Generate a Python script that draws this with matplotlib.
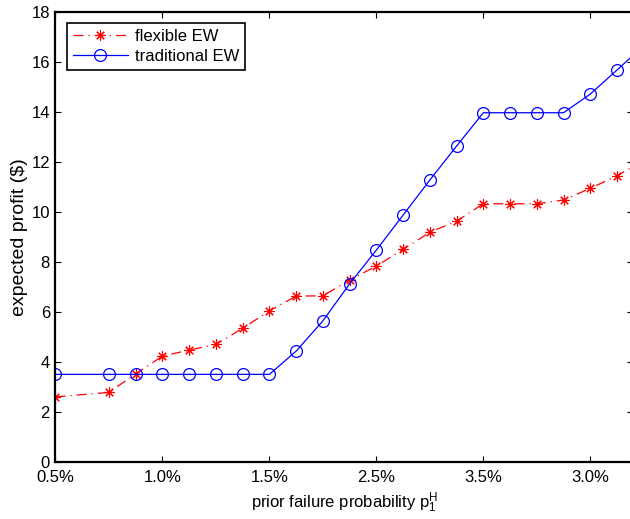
import matplotlib
matplotlib.use('Agg')
import matplotlib.pyplot as plt

plt.rcParams['font.family'] = ['Liberation Sans', 'DejaVu Sans']
plt.rcParams['mathtext.fontset'] = 'custom'
plt.rcParams['mathtext.rm'] = 'Liberation Sans'
plt.rcParams['mathtext.it'] = 'Liberation Sans'

# prior failure probability (%) -- 0.625 is not in the data
p_values = [0.5, 0.75, 0.875, 1.0, 1.125, 1.25, 1.375, 1.5, 1.625, 1.75, 1.875,
            2.0, 2.125, 2.25, 2.375, 2.5, 2.625, 2.75, 2.875, 3.0, 3.125, 3.25]
flexible_ew = [2.60, 2.78, 3.52, 4.23, 4.47, 4.70, 5.34, 6.04, 6.63, 6.64, 7.27,
               7.83, 8.50, 9.18, 9.63, 10.32, 10.32, 10.32, 10.47, 10.94, 11.44, 12.05]
traditional_ew = [3.50, 3.50, 3.50, 3.50, 3.50, 3.50, 3.50, 3.50, 4.43, 5.64, 7.12,
                  8.47, 9.87, 11.27, 12.63, 13.96, 13.96, 13.96, 13.96, 14.71, 15.67, 16.65]

tick_pos = [0.5, 1.0, 1.5, 2.0, 2.5, 3.0]
tick_labels = ['0.5%', '1.0%', '1.5%', '2.5%', '3.5%', '3.0%']

fig = plt.figure(figsize=(6.3, 5.19), dpi=100)
ax = fig.add_axes([0.088, 0.110, 0.917, 0.8675])

ax.plot(p_values, flexible_ew, color='red', linestyle=(0, (8, 4, 1, 4)), linewidth=0.9,
        marker=(8, 2, 0), markersize=7.5, markeredgewidth=0.8, label='flexible EW')
ax.plot(p_values, traditional_ew, color='blue', linestyle='-', linewidth=0.9,
        marker='o', markersize=8.5, markerfacecolor='none', markeredgewidth=0.9,
        label='traditional EW')

ax.set_xlim(0.5, 3.2)
ax.set_ylim(0, 18)
ax.set_xticks(tick_pos)
ax.set_xticklabels(tick_labels)
ax.set_yticks(range(0, 19, 2))
ax.tick_params(direction='in', top=True, right=True, labelsize=12, length=4, width=0.8)
ax.tick_params(axis='x', pad=6)
ax.tick_params(axis='y', pad=4)
for s in ax.spines.values():
    s.set_linewidth(1.6)

ax.set_xlabel(r'prior failure probability $\mathregular{p_1^H}$', fontsize=12, labelpad=4)
ax.set_ylabel('expected profit ($)', fontsize=14, labelpad=2)

leg = ax.legend(loc='upper left', fontsize=12, fancybox=False, framealpha=1,
                edgecolor='black', borderaxespad=0.7, handlelength=3.3,
                borderpad=0.35, labelspacing=0.3, handletextpad=0.4)
leg.get_frame().set_linewidth(1.2)

fig.savefig('out.png', dpi=100)
